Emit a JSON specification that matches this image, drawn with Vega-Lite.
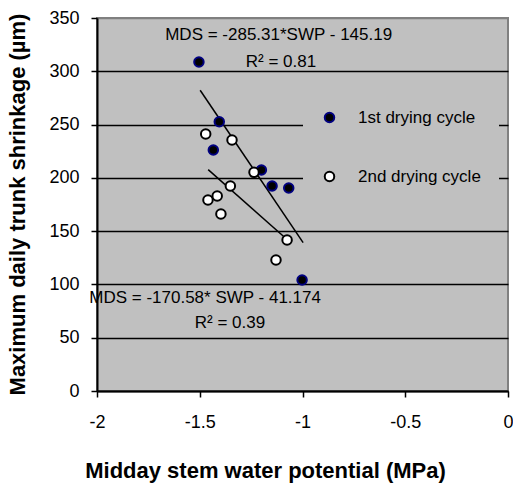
{
  "$schema": "https://vega.github.io/schema/vega-lite/v6.json",
  "width": 411,
  "height": 373,
  "autosize": {"type": "none"},
  "padding": {"left": 97, "top": 18, "right": 5, "bottom": 92},
  "background": "#ffffff",
  "config": {
    "font": "Liberation Sans",
    "view": {"fill": "#c0c0c0", "stroke": "#808080", "strokeWidth": 2},
    "legend": {
      "orient": "none",
      "legendX": 206,
      "legendY": 73,
      "fillColor": "#c0c0c0",
      "strokeColor": null,
      "padding": 18,
      "labelFont": "Liberation Sans",
      "labelFontSize": 17,
      "labelColor": "#000000",
      "labelOffset": 20,
      "rowPadding": 40,
      "symbolSize": 90,
      "symbolStrokeWidth": 2,
      "zindex": 1
    }
  },
  "datasets": {
    "points": [
      {"cycle": "1st drying cycle", "swp": -1.504, "mds": 308.7},
      {"cycle": "1st drying cycle", "swp": -1.405, "mds": 252.7},
      {"cycle": "1st drying cycle", "swp": -1.434, "mds": 226.1},
      {"cycle": "1st drying cycle", "swp": -1.200, "mds": 207.4},
      {"cycle": "1st drying cycle", "swp": -1.148, "mds": 192.4},
      {"cycle": "1st drying cycle", "swp": -1.067, "mds": 190.5},
      {"cycle": "1st drying cycle", "swp": -1.002, "mds": 104.2},
      {"cycle": "2nd drying cycle", "swp": -1.471, "mds": 241.2},
      {"cycle": "2nd drying cycle", "swp": -1.343, "mds": 235.5},
      {"cycle": "2nd drying cycle", "swp": -1.236, "mds": 205.2},
      {"cycle": "2nd drying cycle", "swp": -1.351, "mds": 192.4},
      {"cycle": "2nd drying cycle", "swp": -1.460, "mds": 179.2},
      {"cycle": "2nd drying cycle", "swp": -1.415, "mds": 183.0},
      {"cycle": "2nd drying cycle", "swp": -1.397, "mds": 166.1},
      {"cycle": "2nd drying cycle", "swp": -1.075, "mds": 141.7},
      {"cycle": "2nd drying cycle", "swp": -1.129, "mds": 122.9}
    ],
    "fits": [
      {"fit": "1st", "swp": -1.498, "mds": 282.2},
      {"fit": "1st", "swp": -0.997, "mds": 139.2},
      {"fit": "2nd", "swp": -1.459, "mds": 207.7},
      {"fit": "2nd", "swp": -1.075, "mds": 142.2}
    ],
    "notes": [
      {"text": "MDS = -285.31*SWP - 145.19", "swp": -1.116, "mds": 334},
      {"text": "R² = 0.81", "swp": -1.105, "mds": 308.7},
      {"text": "MDS = -170.58* SWP - 41.174", "swp": -1.474, "mds": 87.7},
      {"text": "R² = 0.39", "swp": -1.353, "mds": 63.8}
    ]
  },
  "layer": [
    {
      "data": {"name": "fits"},
      "mark": {"type": "line", "color": "#000000", "strokeWidth": 1.5},
      "encoding": {
        "x": {
          "field": "swp", "type": "quantitative",
          "scale": {"domain": [-2, 0], "nice": false, "zero": false},
          "axis": {
            "title": "Midday stem water potential (MPa)",
            "values": [-2, -1.5, -1, -0.5, 0],
            "format": "~g",
            "labelExpr": "replace(datum.label, '−', '-')",
            "grid": false,
            "domainColor": "#000000", "domainWidth": 2,
            "tickColor": "#000000", "tickWidth": 1.5, "tickSize": 6,
            "labelFontSize": 18, "labelColor": "#000000", "labelPadding": 16,
            "labelFlush": false,
            "titleFontSize": 22, "titleFontWeight": "bold", "titleColor": "#000000",
            "titleX": 168, "titleY": 86, "titleAlign": "center", "titleBaseline": "alphabetic"
          }
        },
        "y": {
          "field": "mds", "type": "quantitative",
          "scale": {"domain": [0, 350], "nice": false},
          "axis": {
            "title": "Maximum daily trunk shrinkage (µm)",
            "values": [0, 50, 100, 150, 200, 250, 300, 350],
            "grid": true,
            "gridColor": {"condition": {"test": "datum.value == 350", "value": "#808080"}, "value": "#000000"},
            "gridWidth": 1.5,
            "domainColor": "#000000", "domainWidth": 2,
            "tickColor": "#000000", "tickWidth": 1.5, "tickSize": 6,
            "labelFontSize": 18, "labelColor": "#000000", "labelPadding": 12,
            "titleFontSize": 22, "titleFontWeight": "bold", "titleColor": "#000000",
            "titleX": -80, "titleY": 186, "titleAlign": "center", "titleBaseline": "middle", "titleAngle": 270
          }
        },
        "detail": {"field": "fit"}
      }
    },
    {
      "data": {"name": "points"},
      "mark": {"type": "point", "shape": "circle", "filled": true, "size": 90, "strokeWidth": 2, "opacity": 1},
      "encoding": {
        "x": {"field": "swp", "type": "quantitative"},
        "y": {"field": "mds", "type": "quantitative"},
        "fill": {
          "field": "cycle", "type": "nominal",
          "scale": {"domain": ["1st drying cycle", "2nd drying cycle"], "range": ["#000000", "#ffffff"]},
          "legend": {"title": null}
        },
        "stroke": {
          "field": "cycle", "type": "nominal",
          "scale": {"domain": ["1st drying cycle", "2nd drying cycle"], "range": ["#000080", "#000000"]},
          "legend": {"title": null}
        }
      }
    },
    {
      "data": {"name": "notes"},
      "mark": {"type": "text", "fontSize": 17, "align": "center", "baseline": "middle", "color": "#000000"},
      "encoding": {
        "x": {"field": "swp", "type": "quantitative"},
        "y": {"field": "mds", "type": "quantitative"},
        "text": {"field": "text"}
      }
    }
  ]
}
